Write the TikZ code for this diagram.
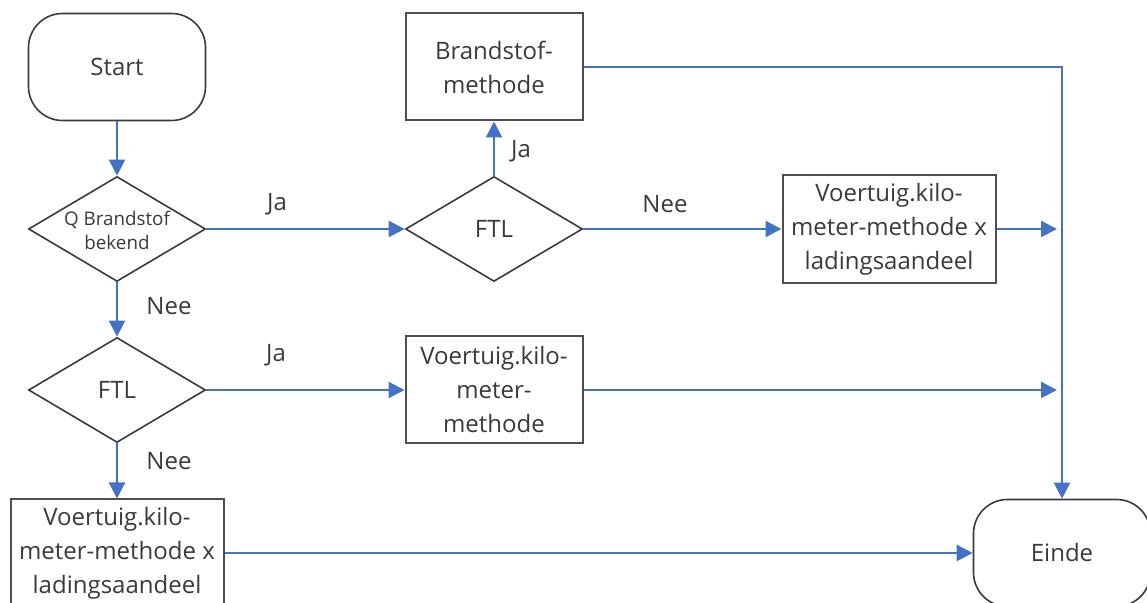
\documentclass[tikz,border=0pt]{standalone}
\usepackage{fontspec}
\setmainfont{Open Sans}
\usetikzlibrary{shapes.geometric,arrows.meta}
\definecolor{flowblue}{HTML}{4472C4}
\definecolor{ink}{HTML}{3A3A3A}
\begin{document}
\begin{tikzpicture}[x=0.5pt,y=-0.5pt,
  txt/.style={font=\fontsize{12}{17}\selectfont, text=ink, align=center},
  term/.style={draw=ink, line width=0.8pt, rectangle, rounded corners=17pt,
    minimum width=88.5pt, minimum height=53.5pt, inner sep=0pt, txt},
  proc/.style={draw=ink!90, line width=1pt, rectangle,
    minimum width=88.5pt, minimum height=53.5pt, inner sep=0pt, txt},
  wideproc/.style={proc, minimum width=106.5pt},
  dia/.style={draw=ink, line width=0.8pt, diamond, minimum width=88.5pt,
    minimum height=52.5pt, inner sep=0pt},
  lbl/.style={txt, inner sep=0pt},
  arr/.style={draw=flowblue, line width=1.1pt, -{Triangle[length=8pt,width=8pt]}},
  ln/.style={draw=flowblue, line width=1.1pt}
]
\useasboundingbox (0,0) rectangle (1147,603);

% nodes
\node[term] (start) at (117,67) {Start};
\node[dia] (q) at (117,229) {};
\node[txt, font=\fontsize{9.4}{12}\selectfont] (qt) at (117,230) {Q Brandstof\\bekend};
\node[dia] (f1) at (494,229) {};
\node[txt] (f1t) at (494,229) {FTL};
\node[proc] (b1) at (494,67) {Brandstof-\\methode};
\node[wideproc, minimum height=54pt] (v1) at (889,229) {Voertuig.kilo-\\meter-methode x\\ladingsaandeel};
\node[dia] (f2) at (117,390) {};
\node[txt] (f2t) at (117,390) {FTL};
\node[proc] (v2) at (494,390) {Voertuig.kilo-\\meter-\\methode};
\node[wideproc] (v3) at (117,553) {Voertuig.kilo-\\meter-methode x\\ladingsaandeel};
\node[term] (einde) at (1062,553) {Einde};

\coordinate (j1) at (1062,229);
\coordinate (j2) at (1062,390);

% connectors
\draw[arr] (start) -- (q);
\draw[arr] (q) -- (f1);
\draw[arr] (f1) -- (b1);
\draw[arr] (f1) -- (v1);
\draw[arr] (q) -- (f2);
\draw[arr] (f2) -- (v2);
\draw[arr] (f2) -- (v3);
\draw[arr] (v3) -- (einde);
\draw[arr] (b1.east) -| (einde.north);
\draw[arr, shorten >=2.5pt] (v1) -- (j1);
\draw[arr, shorten >=2.5pt] (v2) -- (j2);

% labels
\node[lbl] (l1) at (277,204) {Ja};
\node[lbl] (l2) at (521,151) {Ja};
\node[lbl] (l3) at (665,204) {Nee};
\node[lbl] (l4) at (169,306) {Nee};
\node[lbl] (l5) at (276,355) {Ja};
\node[lbl] (l6) at (169,461) {Nee};
\end{tikzpicture}
\end{document}
